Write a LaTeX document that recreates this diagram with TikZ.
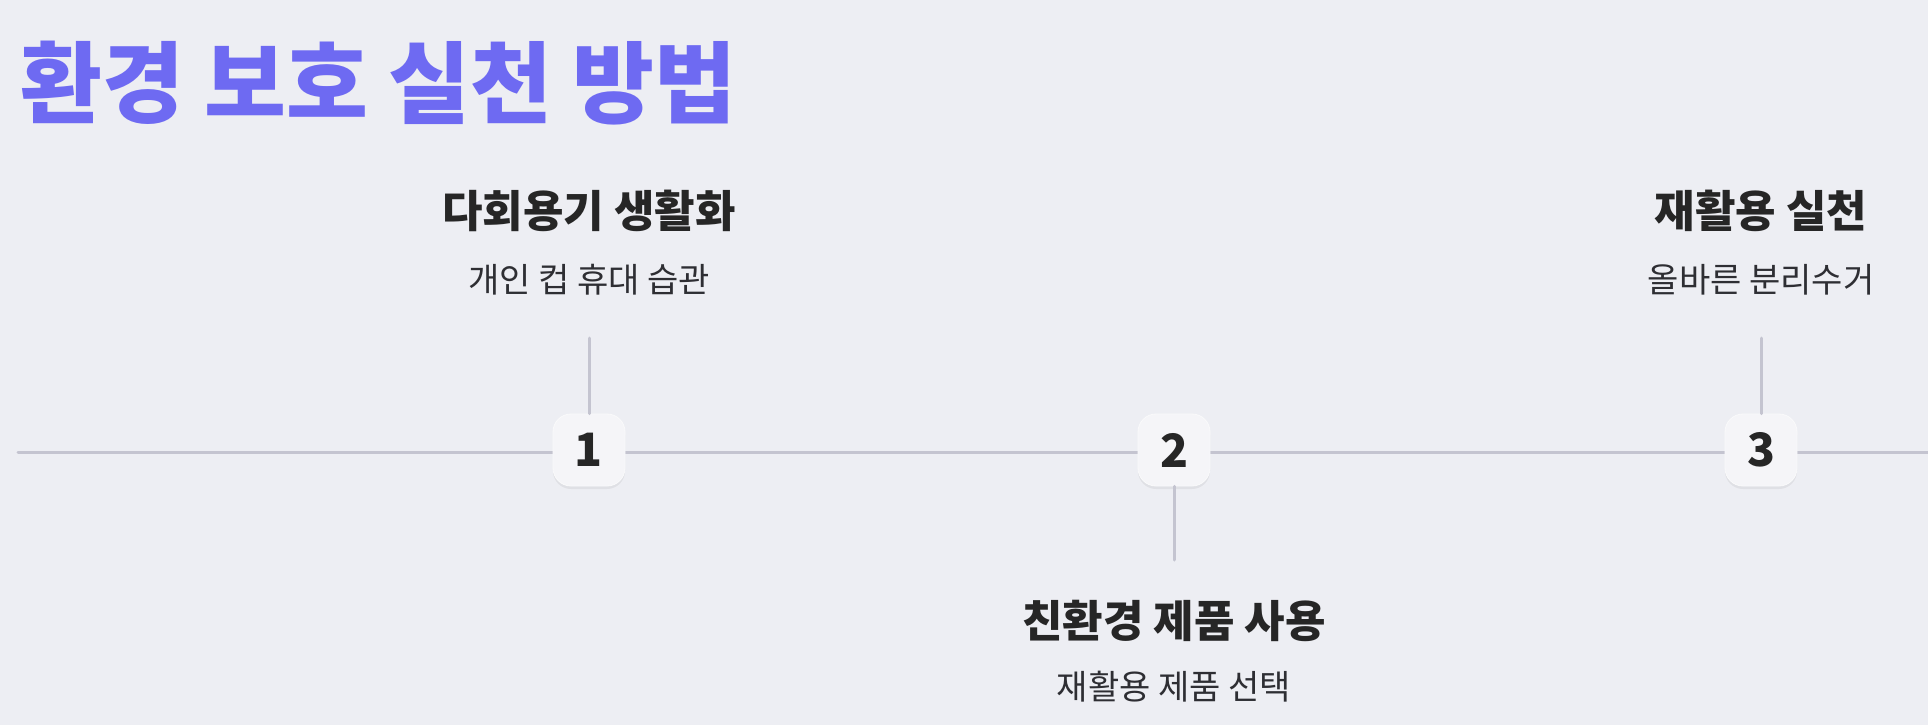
\documentclass[tikz,border=0pt]{standalone}
\usepackage{fontspec}
\setmainfont{Noto Sans CJK KR}
\usetikzlibrary{shadows}

\definecolor{bgcol}{HTML}{EDEEF3}
\definecolor{linecol}{HTML}{C4C4D0}
\definecolor{inkcol}{HTML}{262626}
\definecolor{subcol}{HTML}{2E2E33}
\definecolor{titlecol}{HTML}{6E6AF2}
\definecolor{boxcol}{HTML}{F5F5F8}

\tikzset{
  stepnum/.style={shape=rectangle, rounded corners=18pt, minimum width=72pt, minimum height=72pt,
    fill=boxcol, draw=white!92!linecol, line width=0.8pt, text=inkcol, font=\fontsize{46}{50}\selectfont\bfseries,
    drop shadow={opacity=0.12, shadow xshift=0pt, shadow yshift=-3pt}},
  headtext/.style={text=inkcol, inner sep=0pt, font=\fontsize{44}{50}\selectfont\bfseries},
  subtext/.style={text=subcol, inner sep=0pt, font=\fontsize{34}{40}\selectfont},
  wire/.style={draw=linecol, line width=3pt, line cap=round}
}

\begin{document}
\begin{tikzpicture}[x=1pt,y=-1pt]
  \fill[bgcol] (0,0) rectangle (1928,725);
  \useasboundingbox (0,0) rectangle (1928,725);

  \node[anchor=west, inner sep=0pt, text=titlecol, font=\fontsize{89}{100}\selectfont\bfseries] (titel) at (20,83) {환경 보호 실천 방법};

  \coordinate (lineStart) at (18,452);
  \coordinate (lineEnd) at (1928,452);
  \coordinate (stickEins) at (589,338);
  \coordinate (stickZwei) at (1174,560);
  \coordinate (stickDrei) at (1761,338);

  \path [wire] (lineStart) -- (589,452);
  \path [wire] (589,452) -- (1174,452);
  \path [wire] (1174,452) -- (1761,452);
  \path [wire] (1761,452) -- (lineEnd);

  \node[stepnum] (schrittEins) at (589,450) {1};
  \node[stepnum] (schrittZwei) at (1174,450) {2};
  \node[stepnum] (schrittDrei) at (1761,450) {3};

  \node[headtext] (kopfEins) at (589,211) {다회용기 생활화};
  \node[subtext] (textEins) at (589,280) {개인 컵 휴대 습관};
  \node[headtext] (kopfZwei) at (1174,621) {친환경 제품 사용};
  \node[subtext] (textZwei) at (1174,687) {재활용 제품 선택};
  \node[headtext] (kopfDrei) at (1761,211) {재활용 실천};
  \node[subtext] (textDrei) at (1761,280) {올바른 분리수거};

  \path [wire] (schrittEins) edge (stickEins);
  \path [wire] (schrittZwei) edge (stickZwei);
  \path [wire] (schrittDrei) edge (stickDrei);
\end{tikzpicture}
\end{document}
